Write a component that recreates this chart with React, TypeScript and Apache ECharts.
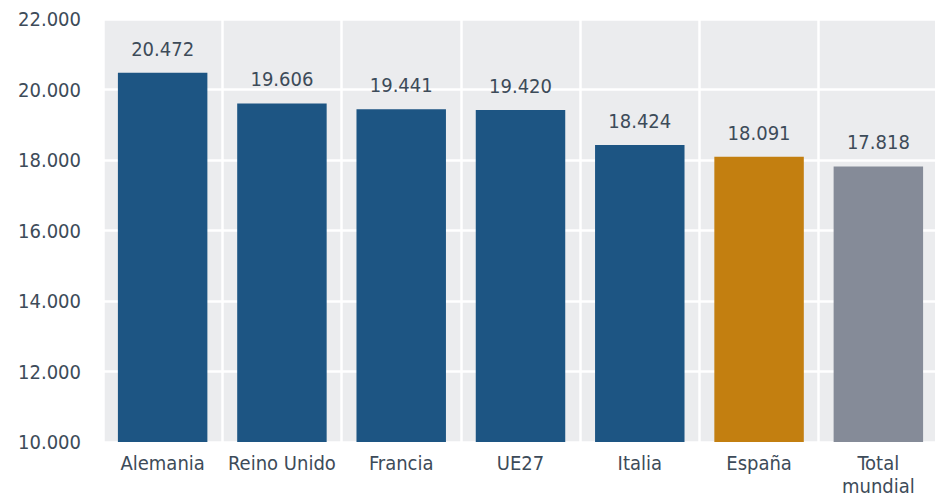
import React, { useEffect, useRef } from "react";
import * as echarts from "echarts";

const categories = ["Alemania", "Reino Unido", "Francia", "UE27", "Italia", "España", "Total\nmundial"];
const values = [20472, 19606, 19441, 19420, 18424, 18091, 17818];
const barColors = ["#1D5583", "#1D5583", "#1D5583", "#1D5583", "#1D5583", "#C37F10", "#858B98"];
const yMin = 10000;
const yMax = 22000;
const yInterval = 2000;

const fmt = (v: number) => {
  const s = Math.round(v).toString();
  return s.replace(/\B(?=(\d{3})+(?!\d))/g, ".");
};

export default function App() {
  const ref = useRef<HTMLDivElement>(null);
  useEffect(() => {
    if (!ref.current) return;
    const chart = echarts.init(ref.current, undefined, { renderer: "svg" });
    const textColor = "#3D4B59";
    const font = "'DejaVu Sans Condensed', 'Liberation Sans', sans-serif";
    chart.setOption({
      animation: false,
      grid: {
        left: 103,
        right: -3,
        top: 19,
        bottom: 55,
        show: true,
        backgroundColor: "#EBECEE",
        borderWidth: 0,
        outerBoundsMode: "none",
        containLabel: false,
      },
      xAxis: {
        type: "category",
        data: categories,
        axisLine: { show: false },
        axisTick: { show: false },
        splitLine: { show: true, lineStyle: { color: "#FFFFFF", width: 2.5 } },
        axisLabel: {
          color: textColor,
          fontFamily: font,
          fontSize: 20,
          margin: 9,
          lineHeight: 23,
          interval: 0,
        },
      },
      yAxis: {
        type: "value",
        min: yMin,
        max: yMax,
        interval: yInterval,
        axisLine: { show: false },
        axisTick: { show: false },
        splitLine: { show: true, lineStyle: { color: "#FFFFFF", width: 2.5 } },
        axisLabel: {
          color: textColor,
          fontFamily: font,
          fontSize: 20,
          margin: 22,
          formatter: (v: number) => fmt(v),
        },
      },
      series: [
        {
          type: "bar",
          barCategoryGap: "25%",
          data: values.map((v, i) => ({ value: v, itemStyle: { color: barColors[i] } })),
          label: {
            show: true,
            position: "top",
            distance: 14,
            color: textColor,
            fontFamily: font,
            fontSize: 20,
            formatter: (p: any) => fmt(p.value),
          },
        },
      ],
    });
    return () => chart.dispose();
  }, []);
  return <div ref={ref} style={{ width: 935, height: 497, position: "absolute", left: 0, top: 0 }} />;
}
